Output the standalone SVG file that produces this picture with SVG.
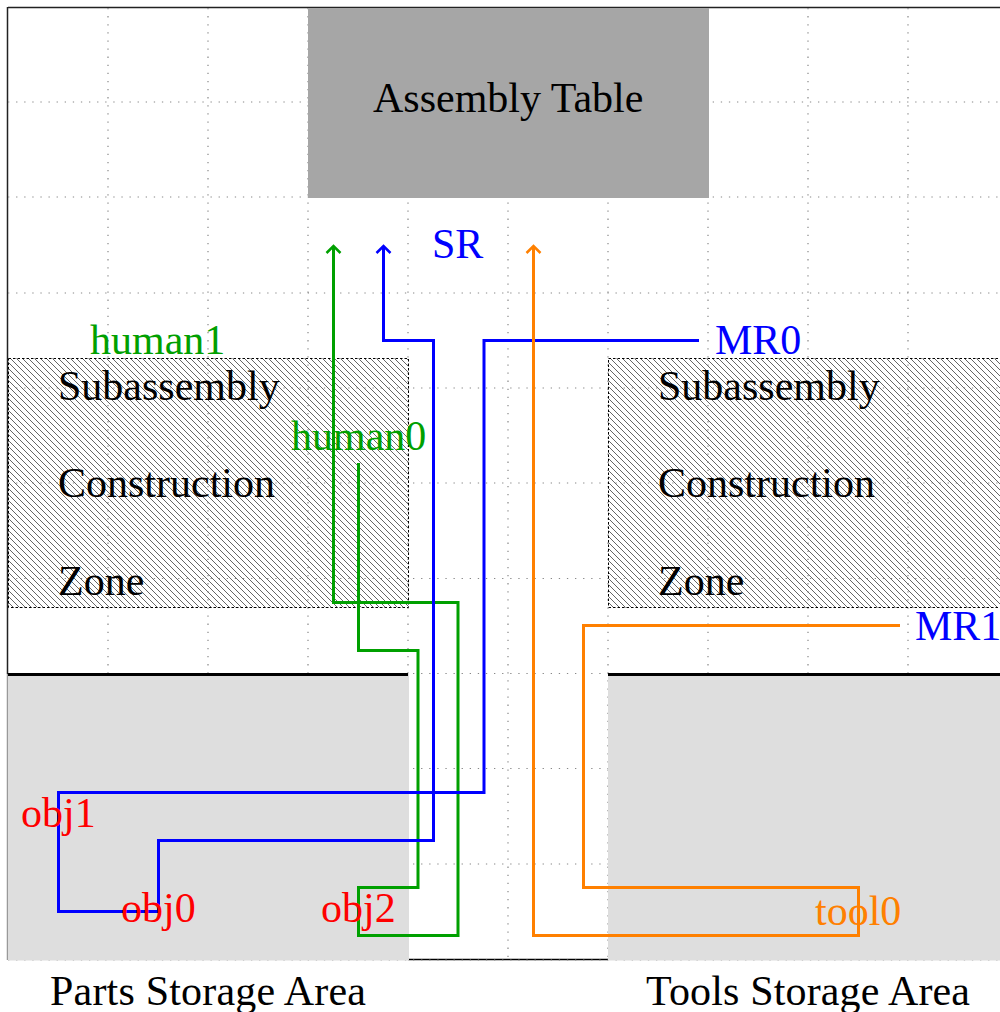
<svg xmlns="http://www.w3.org/2000/svg" width="1000" height="1012" viewBox="0 0 1000 1012">
<style>
text{font-family:"Liberation Serif","Times New Roman",serif;font-size:42px}
.k{fill:#000}.b{fill:#0000ff}.g{fill:#00a000}.r{fill:#ff0000}.o{fill:#ff8000}
.grid{stroke:#888;stroke-width:1.200;stroke-dasharray:1.300 6.800;fill:none}
.conn{fill:none;stroke-width:3;stroke-linejoin:miter}
.hz{fill:url(#hatch);stroke:#000;stroke-width:1;stroke-dasharray:2.500 2}
</style>
<defs>
<pattern id="hatch" patternUnits="userSpaceOnUse" width="6" height="6">
<path d="M-1 -1L7 7M-1 5L1 7M5 -1L7 1" stroke="#666" stroke-width="1" fill="none"/>
</pattern>
<marker id="ag" viewBox="-9 -9 18 18" markerWidth="18" markerHeight="18" refX="0" refY="0" orient="auto" markerUnits="userSpaceOnUse"><path d="M-7 -7L0 0L-7 7" fill="none" stroke="#00a000" stroke-width="2.500"/></marker>
<marker id="ab" viewBox="-9 -9 18 18" markerWidth="18" markerHeight="18" refX="0" refY="0" orient="auto" markerUnits="userSpaceOnUse"><path d="M-7 -7L0 0L-7 7" fill="none" stroke="#0000ff" stroke-width="2.500"/></marker>
<marker id="ao" viewBox="-9 -9 18 18" markerWidth="18" markerHeight="18" refX="0" refY="0" orient="auto" markerUnits="userSpaceOnUse"><path d="M-7 -7L0 0L-7 7" fill="none" stroke="#ff8000" stroke-width="2.500"/></marker>
</defs>
<rect width="1000" height="1012" fill="#fff"/>
<path d="M8 7.500H1000M7.500 7V674" stroke="#222" stroke-width="1.500" fill="none"/>
<path d="M7.500 674V960" stroke="#999" stroke-width="1.500" fill="none"/>
<path d="M408 959.500H608" stroke="#000" stroke-width="1.500" fill="none"/>
<path class="grid" d="M108 8V960M208 8V960M308 8V960M408 8V960M508 8V960M608 8V960M708 8V960M808 8V960M908 8V960M8 102H1000M8 197H1000M8 293H1000M8 388H1000M8 483H1000M8 578.500H1000M8 673.500H1000M8 768.500H1000M8 864H1000M8 960H1000"/>
<g id="assembly-table"><rect x="308" y="8" width="401" height="190" fill="#a6a6a6"/><text class="k" x="373" y="112">Assembly Table</text></g>
<g id="parts-storage"><rect x="8" y="674" width="401" height="286.500" fill="#dedede"/><path d="M8 674.500H408" stroke="#000" stroke-width="3"/><text class="k" x="50" y="1005" textLength="316">Parts Storage Area</text></g>
<g id="tools-storage"><rect x="608" y="674" width="392" height="286.500" fill="#dedede"/><path d="M608 674.500H1000" stroke="#000" stroke-width="3"/><text class="k" x="646" y="1005" textLength="324">Tools Storage Area</text></g>
<g id="zone-left"><rect class="hz" x="8.500" y="358.500" width="400" height="249"/><text class="k" x="58" y="400">Subassembly</text><text class="k" x="58" y="497">Construction</text><text class="k" x="58" y="595">Zone</text></g>
<g id="zone-right"><rect class="hz" x="608.500" y="358.500" width="392" height="249"/><text class="k" x="658" y="400">Subassembly</text><text class="k" x="658" y="497">Construction</text><text class="k" x="658" y="595">Zone</text></g>
<g id="connectors">
<path class="conn" stroke="#00a000" marker-end="url(#ag)" d="M358.500 463V650.500H418V887.500H358.500V935.500H458V602.500H333.500V246"/>
<path class="conn" stroke="#0000ff" marker-end="url(#ab)" d="M699 340.500H484V792.500H58.500V911.500H158.500V840.500H433.500V340.500H383.500V246"/>
<path class="conn" stroke="#ff8000" marker-end="url(#ao)" d="M900 625.500H583.500V887.500H858.500V935.500H533.500V246"/>
</g>
<g id="human1"><text class="g" x="90" y="354">human1</text></g>
<g id="human0"><text class="g" x="291" y="450">human0</text></g>
<g id="SR"><text class="b" x="432" y="258">SR</text></g>
<g id="MR0"><text class="b" x="715" y="354">MR0</text></g>
<g id="MR1"><text class="b" x="915" y="640">MR1</text></g>
<g id="obj1"><text class="r" x="21" y="827">obj1</text></g>
<g id="obj0"><text class="r" x="121" y="922">obj0</text></g>
<g id="obj2"><text class="r" x="321" y="922">obj2</text></g>
<g id="tool0"><text class="o" x="815" y="925">tool0</text></g>
</svg>
